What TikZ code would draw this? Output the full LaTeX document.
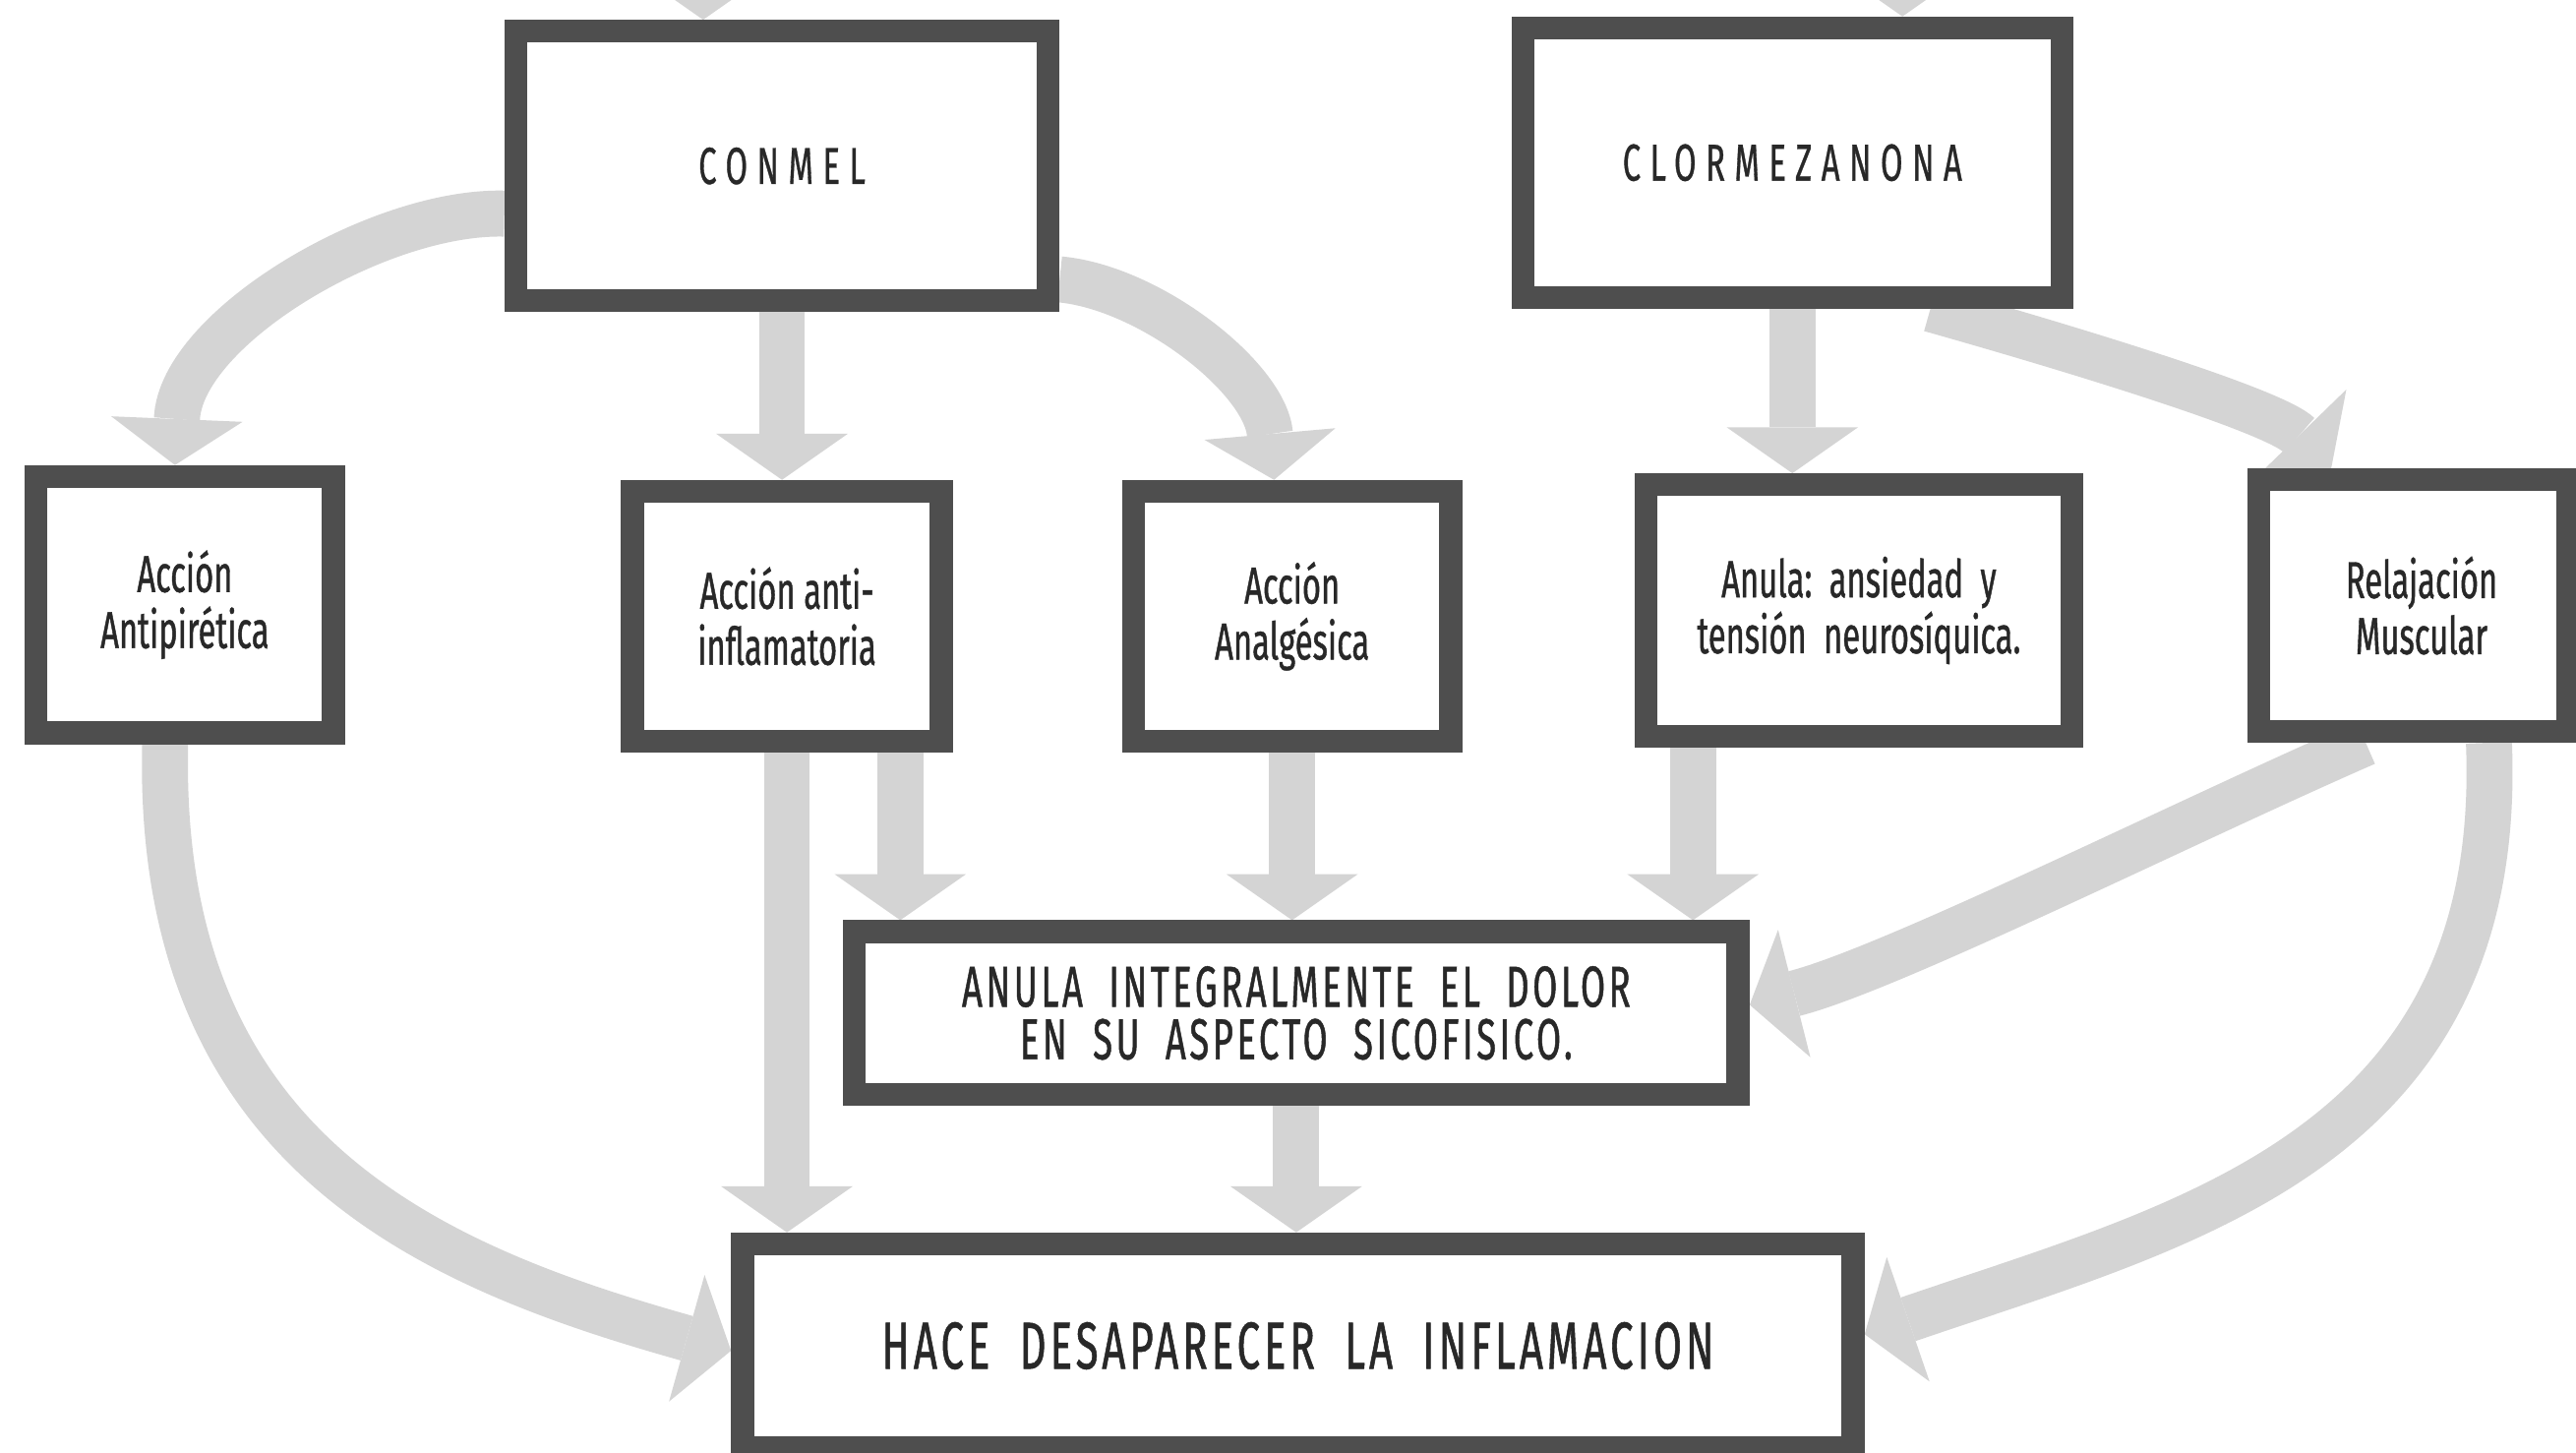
\documentclass[tikz,border=0pt]{standalone}
\usepackage{fontspec}
\setmainfont{Fira Sans}
\newfontfamily\cond[FakeStretch=0.62,FakeBold=0.8]{Fira Sans}
\newfontfamily\condsp[FakeStretch=0.62,FakeBold=0.6,LetterSpace=18]{Fira Sans}
\newfontfamily\condcap[FakeStretch=0.62,FakeBold=0.8,LetterSpace=6]{Fira Sans}
\usetikzlibrary{arrows.meta,calc}
\definecolor{boxgray}{RGB}{78,78,78}
\definecolor{arrgray}{RGB}{212,212,212}
\definecolor{txtgray}{RGB}{40,40,40}
\pgfdeclarelayer{bg}
\pgfsetlayers{bg,main}
\begin{document}
\begin{tikzpicture}[x=0.1mm,y=-0.1mm,
  box/.style={draw=boxgray, line width=1.4mm, fill=white, inner sep=0pt, align=center, text=txtgray},
  flow/.style={draw=arrgray, line width=2.8mm, -{Triangle[width=8mm,length=2.8mm,line width=0pt]}},
  small/.style={font=\cond\fontsize{9}{9.7}\selectfont},
  title/.style={font=\condsp\fontsize{9}{10}\selectfont},
  mid/.style={font=\condcap\fontsize{10}{9.1}\selectfont},
  big/.style={font=\condcap\fontsize{11.5}{13}\selectfont}]
\useasboundingbox (0,0) rectangle (1568,884);
\begin{pgfonlayer}{bg}
\fill[white] (0,0) rectangle (1568,884);
\end{pgfonlayer}

\node[box, title, minimum width=32.4mm, minimum height=16.4mm] (conmel) at (476,101) {CONMEL};
\node[box, title, minimum width=32.8mm, minimum height=16.4mm] (clor) at (1091,99) {CLORMEZANONA};
\node[box, small, minimum width=18.1mm, minimum height=15.6mm] (anti) at (112.5,368) {Acción\\Antipirética};
\node[box, small, minimum width=18.8mm, minimum height=15.2mm] (inflam) at (479,375) {Acción anti-\\inflamatoria};
\node[box, small, minimum width=19.3mm, minimum height=15.2mm] (analg) at (786.5,375) {Acción\\Analgésica};
\node[box, small, minimum width=25.9mm, minimum height=15.3mm] (ansie) at (1131.5,371.5) {Anula:\ \ ansiedad\ \ y\\tensión\ \ neurosíquica.};
\node[box, small, minimum width=18.8mm, minimum height=15.3mm] (relaj) at (1469,368.5) {\hspace*{1mm}Relajación\\\hspace*{1mm}Muscular};
\node[box, mid, minimum width=53.8mm, minimum height=9.9mm] (anula) at (789,616.5) {ANULA\ \ INTEGRALMENTE\ \ EL\ \ DOLOR\\EN\ \ SU\ \ ASPECTO\ \ SICOFISICO.};
\node[box, big, minimum width=67.6mm, minimum height=12.4mm] (hace) at (790,819) {HACE\ \ DESAPARECER\ \ LA\ \ INFLAMACION};

\coordinate (a0) at ($(conmel.west)+(0,29)$);
\coordinate (a1) at ($(anti.north)+(-6,0)$);
\coordinate (c0) at ($(conmel.east)+(0,69)$);
\coordinate (c1) at ($(analg.north)+(-11,0)$);
\coordinate (e0) at ($(clor.south)+(84,0)$);
\coordinate (e1) at ($(relaj.north)+(-50,0)$);
\coordinate (f0) at ($(anti.south)+(-12,0)$);
\coordinate (f1) at ($(hace.west)+(0,3)$);
\coordinate (l0) at ($(relaj.south)+(46,0)$);
\coordinate (l1) at ($(hace.east)+(0,-7)$);
\coordinate (k0) at ($(relaj.south)+(-29,0)$);
\coordinate (k1) at ($(anula.east)+(0,-5)$);
\coordinate (h0) at ($(inflam.south)+(69,0)$);
\coordinate (j0) at ($(ansie.south)+(-101,0)$);
\coordinate (t1) at (428,-60);
\coordinate (t2) at (1158,-60);

\begin{pgfonlayer}{bg}
\draw[flow] (t1) -- (t1 |- conmel.north);
\draw[flow] (t2) -- (t2 |- clor.north);
\draw[flow] (a0) .. controls (230,128) and (110,200) .. (a1);
\draw[flow] (c0) .. controls (700,175) and (770,230) .. (c1);
\draw[flow] (e0) .. controls (1260,212) and (1385,250) .. (e1);
\draw[flow] (f0) .. controls (95,700) and (260,770) .. (f1);
\draw[flow] (l0) .. controls (1525,700) and (1330,745) .. (l1);
\draw[flow] (k0) .. controls (1330,500) and (1150,590) .. (k1);
\draw[flow] (conmel.south) -- (conmel.south |- inflam.north);
\draw[flow] (clor.south) -- (clor.south |- ansie.north);
\draw[flow] (inflam.south) -- (inflam.south |- hace.north);
\draw[flow] (h0) -- (h0 |- anula.north);
\draw[flow] (analg.south) -- (analg.south |- anula.north);
\draw[flow] (j0) -- (j0 |- anula.north);
\draw[flow] (anula.south) -- (anula.south |- hace.north);
\end{pgfonlayer}
\end{tikzpicture}
\end{document}
